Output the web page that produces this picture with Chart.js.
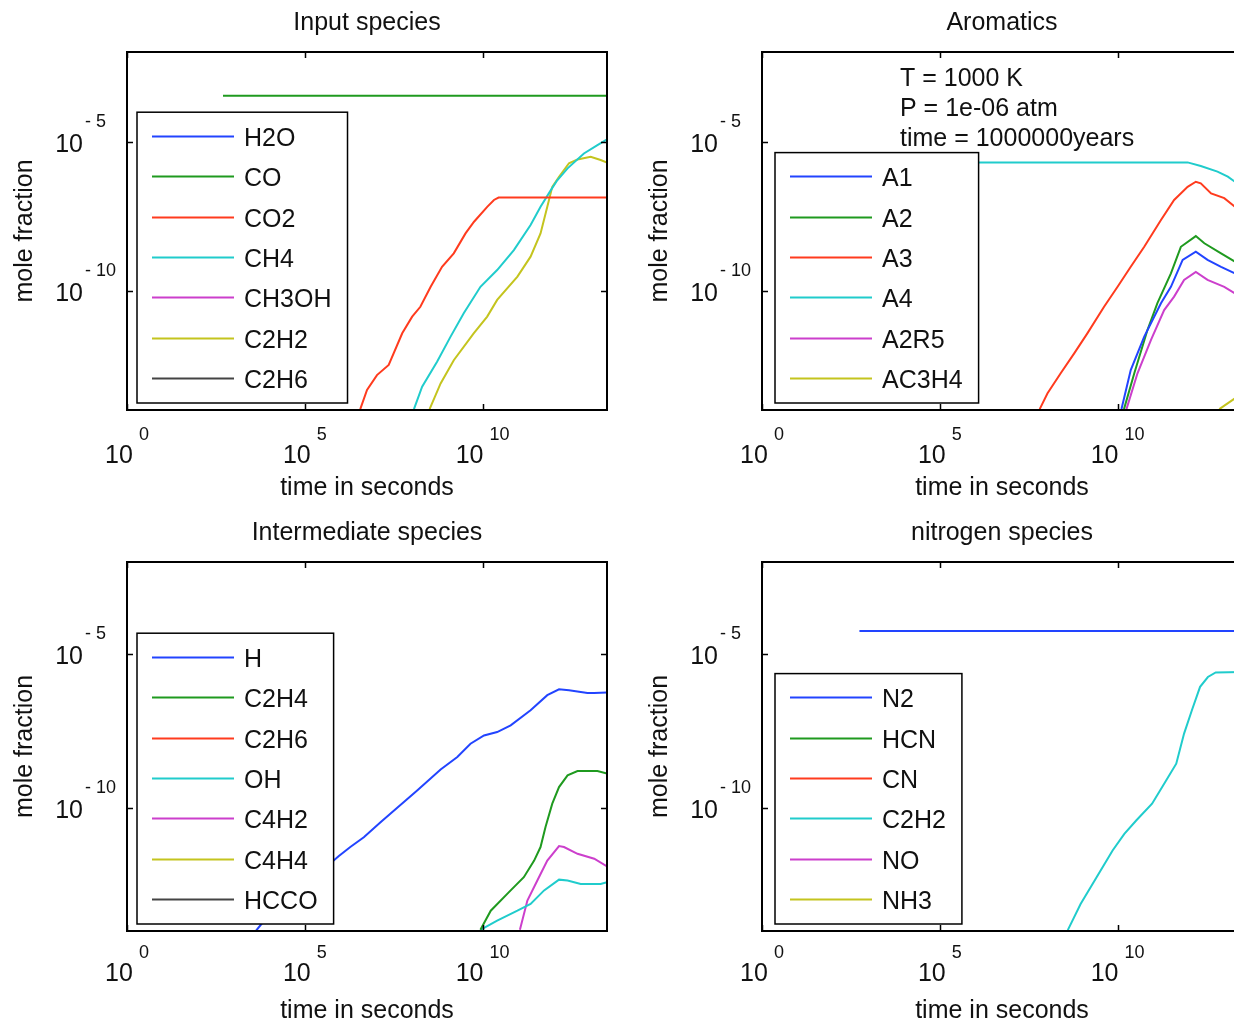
<!DOCTYPE html>
<html>
<head>
<meta charset="utf-8">
<title>Species mole fractions</title>
<script src="https://cdn.jsdelivr.net/npm/chart.js@4.4.1/dist/chart.umd.min.js"></script>
<style>
  html, body { margin: 0; padding: 0; background: #fff; overflow: hidden; width: 1234px; height: 1021px; }
  canvas { position: absolute; }
  #c1 { left: 0; top: 0; }
  #c2 { left: 635px; top: 0; }
  #c3 { left: 0; top: 510px; }
  #c4 { left: 635px; top: 510px; }
</style>
</head>
<body>
<canvas id="c1" width="620" height="510"></canvas>
<canvas id="c2" width="620" height="510"></canvas>
<canvas id="c3" width="620" height="521"></canvas>
<canvas id="c4" width="620" height="521"></canvas>
<script>
// axis ranges and ticks (powers of ten)
const T_END = 3.156e13;          // 1e6 years in seconds
const Y_MIN = 1e-14, Y_MAX = 1e-2;
const xTickPowers = [0, 5, 10];
const yTickPowers = [-5, -10];

// every series: [log10(time s), log10(mole fraction)]
// Input species
const inH2O = [];
const inCO = [[2.70, -3.47], [13.5, -3.47]];
const inCO2 = [[6.56, -13.97], [6.75, -13.33], [7.03, -12.83], [7.36, -12.49], [7.74, -11.43], [8.02, -10.87],
  [8.25, -10.54], [8.54, -9.87], [8.86, -9.20], [9.19, -8.75], [9.52, -8.08], [9.76, -7.69], [10.13, -7.19],
  [10.32, -6.96], [10.45, -6.88], [13.5, -6.88]];
const inCH4 = [[8.07, -13.97], [8.30, -13.22], [8.72, -12.38], [9.10, -11.54], [9.47, -10.76], [9.94, -9.87],
  [10.41, -9.31], [10.88, -8.64], [11.35, -7.80], [11.63, -7.19], [11.92, -6.63], [12.10, -6.30], [12.39, -5.90],
  [12.85, -5.40], [13.23, -5.12], [13.5, -4.93]];
const inCH3OH = [];
const inC2H2 = [[8.51, -13.97], [8.82, -13.11], [9.19, -12.33], [9.75, -11.43], [10.13, -10.87], [10.41, -10.31],
  [10.98, -9.53], [11.35, -8.86], [11.63, -8.08], [11.82, -7.19], [11.96, -6.52], [12.15, -6.18], [12.43, -5.73],
  [12.67, -5.60], [13.04, -5.51], [13.32, -5.62], [13.5, -5.71]];
const inC2H6 = [];

// Aromatics
const arA1 = [[10.11, -13.97], [10.37, -12.66], [10.75, -11.54], [11.22, -10.42], [11.50, -9.87], [11.83, -8.97],
  [12.20, -8.69], [12.53, -8.97], [12.91, -9.20], [13.30, -9.42]];
const arA2 = [[10.18, -13.97], [10.47, -12.77], [10.84, -11.32], [11.12, -10.42], [11.50, -9.42], [11.78, -8.53],
  [12.20, -8.17], [12.44, -8.41], [12.91, -8.75], [13.30, -9.03]];
const arA3 = [[7.81, -13.97], [8.03, -13.44], [8.40, -12.77], [8.78, -12.10], [9.15, -11.43], [9.62, -10.54],
  [10.00, -9.87], [10.37, -9.20], [10.75, -8.53], [11.22, -7.63], [11.59, -6.96], [11.97, -6.52], [12.20, -6.35],
  [12.34, -6.40], [12.63, -6.74], [13.00, -6.90], [13.30, -7.19]];
const arA4 = [[2.74, -5.70], [11.97, -5.70], [12.34, -5.82], [12.81, -6.01], [13.10, -6.18], [13.30, -6.35]];
const arA2R5 = [[10.25, -13.97], [10.56, -12.77], [10.94, -11.65], [11.31, -10.65], [11.59, -10.20], [11.87, -9.64],
  [12.20, -9.37], [12.53, -9.64], [13.00, -9.87], [13.30, -10.09]];
const arAC3H4 = [[12.86, -13.97], [13.30, -13.61]];

// Intermediate species
const imH = [[3.63, -13.99], [3.86, -13.66], [5.95, -11.57], [6.28, -11.27], [6.66, -10.95], [7.13, -10.46],
  [7.60, -9.99], [8.16, -9.43], [8.82, -8.75], [9.29, -8.34], [9.66, -7.91], [10.04, -7.64], [10.41, -7.53],
  [10.79, -7.31], [11.35, -6.82], [11.82, -6.33], [12.15, -6.14], [12.43, -6.17], [12.95, -6.26], [13.14, -6.26],
  [13.5, -6.24]];
const imC2H4 = [[9.94, -13.96], [10.23, -13.34], [10.79, -12.68], [11.16, -12.25], [11.45, -11.71], [11.63, -11.27],
  [11.77, -10.62], [11.96, -9.86], [12.15, -9.32], [12.39, -8.94], [12.67, -8.80], [13.23, -8.80], [13.5, -8.88]];
const imC2H6 = [];
const imOH = [[9.94, -13.96], [10.41, -13.66], [10.98, -13.34], [11.35, -13.12], [11.73, -12.68], [12.15, -12.33],
  [12.39, -12.36], [12.76, -12.47], [13.32, -12.47], [13.5, -12.41]];
const imC4H2 = [[11.05, -13.96], [11.26, -13.01], [11.54, -12.36], [11.82, -11.71], [12.15, -11.24], [12.29, -11.27],
  [12.67, -11.49], [13.14, -11.65], [13.5, -11.90]];
const imC4H4 = [];
const imHCCO = [];

// nitrogen species
const niN2 = [[2.74, -4.24], [13.5, -4.24]];
const niHCN = [];
const niCN = [];
const niC2H2 = [[8.60, -13.97], [8.96, -13.12], [9.41, -12.25], [9.86, -11.38], [10.19, -10.84], [10.53, -10.40],
  [10.97, -9.86], [11.31, -9.21], [11.65, -8.56], [11.87, -7.58], [12.09, -6.82], [12.32, -6.06], [12.54, -5.74],
  [12.76, -5.59], [13.5, -5.58]];
const niNO = [];
const niNH3 = [];

// matlab's old default line order
const colors = ['#2244ff', '#1f9a1f', '#ff3b1e', '#20cccc', '#cc3fcc', '#c4c41e', '#444444'];
const INK = '#111';
const FONT = "'Liberation Sans', Arial, Helvetica, sans-serif";

Chart.defaults.font.family = FONT;
Chart.defaults.color = INK;

// box, inward ticks, 10^n labels, text note and legend, all drawn on top of the lines
const panelDeco = {
  id: 'panelDeco',
  afterDatasetsDraw(chart, args, opts) {
    const { ctx, chartArea: a, scales: { x, y } } = chart;
    ctx.save();
    ctx.strokeStyle = '#000';
    ctx.fillStyle = INK;

    // ticks
    ctx.lineWidth = 1.5;
    ctx.beginPath();
    xTickPowers.forEach(k => {
      const px = Math.round(x.getPixelForValue(10 ** k)) + 0.5;
      ctx.moveTo(px, a.bottom); ctx.lineTo(px, a.bottom - 6);
      ctx.moveTo(px, a.top); ctx.lineTo(px, a.top + 6);
    });
    yTickPowers.forEach(k => {
      const py = Math.round(y.getPixelForValue(10 ** k)) + 0.5;
      ctx.moveTo(a.left, py); ctx.lineTo(a.left + 6, py);
      ctx.moveTo(a.right, py); ctx.lineTo(a.right - 6, py);
    });
    ctx.stroke();

    // box
    ctx.lineWidth = 2;
    ctx.strokeRect(a.left, a.top, a.right - a.left, a.bottom - a.top);

    // tick labels
    const big = `25px ${FONT}`, small = `18px ${FONT}`;
    ctx.textBaseline = 'alphabetic';
    xTickPowers.forEach(k => {
      const px = x.getPixelForValue(10 ** k);
      ctx.font = big; const w1 = ctx.measureText('10').width;
      ctx.font = small; const w2 = ctx.measureText(String(k)).width;
      const x0 = px - (w1 + 6 + w2) / 2;
      ctx.textAlign = 'left';
      ctx.font = big; ctx.fillText('10', x0, a.bottom + opts.xLabelDy);
      ctx.font = small; ctx.fillText(String(k), x0 + w1 + 6, a.bottom + opts.xLabelDy - 23);
    });
    yTickPowers.forEach(k => {
      const py = y.getPixelForValue(10 ** k);
      ctx.font = big; ctx.textAlign = 'right';
      ctx.fillText('10', a.left - 44, py + 10);
      ctx.font = small; ctx.textAlign = 'left';
      ctx.fillText((k < 0 ? '- ' : '') + Math.abs(k), a.left - 42, py - 15);
    });

    // text note
    ctx.font = big; ctx.textAlign = 'left';
    (opts.note || []).forEach((t, i) => ctx.fillText(t, a.left + 138, a.top + 34 + i * 30));

    // legend, lower left
    const sets = chart.data.datasets;
    const rowH = 40.4;
    const boxH = sets.length * rowH + 8;
    const boxTop = a.bottom - 7 - boxH;
    const boxLeft = a.left + opts.legendLeft;
    ctx.font = big;
    const maxW = Math.max(...sets.map(d => ctx.measureText(d.label).width));
    const boxW = 15 + 82 + 10 + maxW + 16;
    ctx.fillStyle = '#fff';
    ctx.fillRect(boxLeft, boxTop, boxW, boxH);
    ctx.lineWidth = 1.5;
    ctx.strokeStyle = '#000';
    ctx.strokeRect(boxLeft, boxTop, boxW, boxH);
    ctx.textBaseline = 'middle';
    sets.forEach((d, i) => {
      const ly = Math.round(boxTop + 23.5 + i * rowH) + 0.5;
      ctx.strokeStyle = d.borderColor;
      ctx.lineWidth = 2;
      ctx.beginPath(); ctx.moveTo(boxLeft + 15, ly); ctx.lineTo(boxLeft + 97, ly); ctx.stroke();
      ctx.fillStyle = INK;
      ctx.fillText(d.label, boxLeft + 107, ly + 3);
    });
    ctx.restore();
  }
};

function makePanel(id, title, names, series, deco) {
  const datasets = names.map((name, i) => ({
    label: name,
    data: series[i].map(([lt, lf]) => ({ x: 10 ** lt, y: 10 ** lf })),
    borderColor: colors[i],
    backgroundColor: colors[i],
    borderWidth: 2,
    pointRadius: 0,
    tension: 0,
    fill: false
  }));
  return new Chart(document.getElementById(id), {
    type: 'line',
    data: { datasets },
    options: {
      responsive: false,
      animation: false,
      layout: { padding: { right: 13 } },
      plugins: {
        legend: { display: false },
        tooltip: { enabled: false },
        title: {
          display: true, text: title, fullSize: false, color: INK,
          font: { size: 25, weight: 'normal' }, padding: { top: 8, bottom: 14 }
        },
        panelDeco: deco
      },
      scales: {
        x: {
          type: 'logarithmic', min: 1, max: T_END,
          ticks: { display: false }, grid: { display: false }, border: { display: false },
          title: { display: true, text: 'time in seconds', color: INK, font: { size: 25 }, padding: { top: 0, bottom: deco.xTitlePad } },
          afterFit: s => { s.height = 100; }
        },
        y: {
          type: 'logarithmic', min: Y_MIN, max: Y_MAX,
          ticks: { display: false }, grid: { display: false }, border: { display: false },
          title: { display: true, text: 'mole fraction', color: INK, font: { size: 25 }, padding: { top: 10, bottom: 0 } },
          afterFit: s => { s.width = 127; }
        }
      }
    },
    plugins: [panelDeco]
  });
}

makePanel('c1', 'Input species',
  ['H2O', 'CO', 'CO2', 'CH4', 'CH3OH', 'C2H2', 'C2H6'],
  [inH2O, inCO, inCO2, inCH4, inCH3OH, inC2H2, inC2H6],
  { legendLeft: 10, xLabelDy: 53, xTitlePad: 7 });

makePanel('c2', 'Aromatics',
  ['A1', 'A2', 'A3', 'A4', 'A2R5', 'AC3H4'],
  [arA1, arA2, arA3, arA4, arA2R5, arAC3H4],
  { legendLeft: 13, xLabelDy: 53, xTitlePad: 7, note: ['T = 1000 K', 'P = 1e-06 atm', 'time = 1000000years'] });

makePanel('c3', 'Intermediate species',
  ['H', 'C2H4', 'C2H6', 'OH', 'C4H2', 'C4H4', 'HCCO'],
  [imH, imC2H4, imC2H6, imOH, imC4H2, imC4H4, imHCCO],
  { legendLeft: 10, xLabelDy: 50, xTitlePad: 5 });

makePanel('c4', 'nitrogen species',
  ['N2', 'HCN', 'CN', 'C2H2', 'NO', 'NH3'],
  [niN2, niHCN, niCN, niC2H2, niNO, niNH3],
  { legendLeft: 13, xLabelDy: 50, xTitlePad: 5 });
</script>
</body>
</html>
